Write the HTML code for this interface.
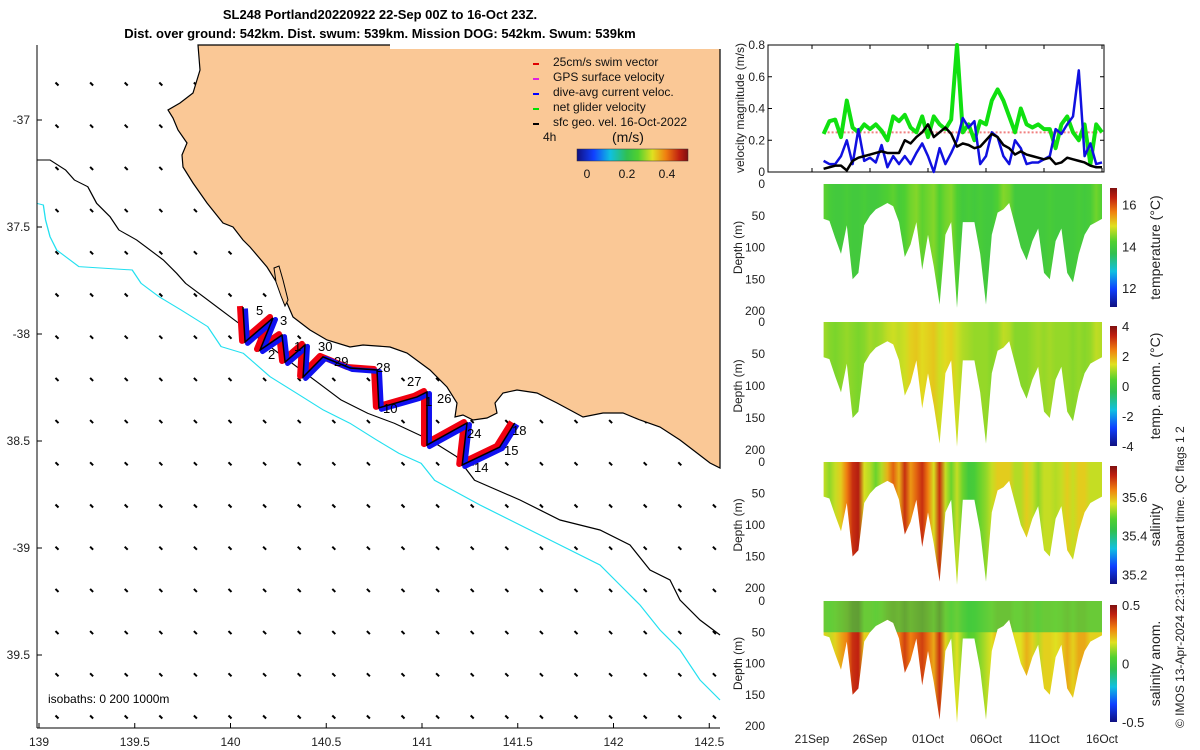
<!DOCTYPE html>
<html><head><meta charset="utf-8"><style>
html,body{margin:0;padding:0;background:#fff;}
svg{display:block;font-family:"Liberation Sans",sans-serif;}
</style></head><body>
<svg id="fig" width="1200" height="750" viewBox="0 0 1200 750">
<g id="mapArrows"></g>
<path fill="#fac896" stroke="#000" stroke-width="1.2" d="M198,45 L200,70 L193,93 L180,103 L168,110 L173,118 L178,130 L187,143 L182,155 L183,167 L193,183 L207,203 L223,223 L233,227 L243,240 L250,247 L267,267 L277,283 L287,303 L293,317 L310,330 L327,340 L350,347 L363,345 L390,347 L407,353 L430,370 L447,387 L457,403 L455,417 L463,415 L473,420 L487,418 L497,413 L495,403 L503,393 L517,390 L537,393 L557,403 L570,410 L583,417 L603,413 L623,413 L640,420 L660,427 L680,440 L697,453 L710,463 L720,468 L720,45 Z"/>
<path fill="#fac896" stroke="#000" stroke-width="1" d="M274,268 L279,266 L283,280 L288,300 L285,306 L281,296 L276,282 Z"/>
<g transform="translate(30,40) scale(0.4444,0.3333)">
<path fill="none" stroke="#000" stroke-width="3" d="M15,360 L45,360 L80,390 L100,420 L130,440 L150,490 L180,530 L200,570 L240,600 L260,620 L300,660 L330,700 L350,730 L390,770 L430,810 L470,850 L520,900 L580,960 L640,1020 L700,1080 L760,1120 L820,1150 L900,1200 L960,1250 L1000,1320"/>
<path fill="none" stroke="#22e0f0" stroke-width="3" d="M15,490 L30,495 L35,540 L45,590 L60,630 L110,680 L230,690 L250,730 L290,770 L340,810 L400,860 L430,920 L480,940 L540,1010 L600,1060 L660,1110 L720,1150 L780,1200 L830,1240 L880,1270 L910,1320"/>
</g>
<path fill="none" stroke="#000" stroke-width="1.2" d="M474,480 L520,500 L560,520 L600,530 L630,545 L650,570 L670,580 L680,600 L700,620 L720,635"/>
<path fill="none" stroke="#22e0f0" stroke-width="1.2" d="M434,480 L480,505 L520,525 L560,545 L600,565 L620,585 L640,605 L660,630 L680,650 L700,680 L720,700"/>
<rect x="390" y="43" width="332" height="6" fill="#fff"/>
<g id="track"></g>
<g font-size="13" fill="#000">
<text x="256" y="315">5</text><text x="280" y="325">3</text><text x="268" y="359">2</text><text x="294" y="351">1</text><text x="318" y="351">30</text><text x="334" y="366">29</text><text x="376" y="372">28</text><text x="407" y="386">27</text><text x="437" y="403">26</text><text x="425" y="406">1</text><text x="383" y="413">10</text><text x="467" y="438">24</text><text x="512" y="435">18</text><text x="504" y="455">15</text><text x="474" y="472">14</text>
</g>
<line x1="37" y1="45" x2="37" y2="728" stroke="#000"/>
<line x1="37" y1="728" x2="720" y2="728" stroke="#000"/>
<g id="mapTicks" font-size="12" fill="#222"></g>
<text x="48" y="703" font-size="12">isobaths: 0   200  1000m</text>
<g font-size="12" fill="#111">
<line x1="533" y1="64" x2="539" y2="64" stroke="#e00000" stroke-width="2"/><text x="553" y="66">25cm/s swim vector</text>
<line x1="533" y1="79" x2="539" y2="79" stroke="#e020e0" stroke-width="2"/><text x="553" y="81">GPS surface velocity</text>
<line x1="533" y1="94" x2="539" y2="94" stroke="#0000ff" stroke-width="2"/><text x="553" y="96">dive-avg current veloc.</text>
<line x1="533" y1="109" x2="539" y2="109" stroke="#00e000" stroke-width="2"/><text x="553" y="111">net glider velocity</text>
<line x1="533" y1="124" x2="539" y2="124" stroke="#000" stroke-width="2"/><text x="553" y="126">sfc geo. vel. 16-Oct-2022</text>
<text x="543" y="141">4h</text><text x="612" y="142" font-size="14">(m/s)</text>
<rect x="577" y="149" width="111" height="12" fill="url(#gJet)" stroke="#333" stroke-width="0.5"/>
<text x="587" y="178" text-anchor="middle">0</text><text x="627" y="178" text-anchor="middle">0.2</text><text x="667" y="178" text-anchor="middle">0.4</text>
</g>
<g font-size="13" font-weight="bold" text-anchor="middle">
<text x="380" y="19">SL248 Portland20220922 22-Sep 00Z to 16-Oct 23Z.</text>
<text x="380" y="38">Dist. over ground: 542km. Dist. swum: 539km. Mission DOG: 542km. Swum: 539km</text>
</g>
<defs>
<linearGradient id="gJet" x1="0" x2="1" y1="0" y2="0"></linearGradient>
<linearGradient id="gJetV" x1="0" x2="0" y1="1" y2="0"></linearGradient>
</defs>
<g id="right"></g>
<text transform="translate(1184,728) rotate(-90)" font-size="12" fill="#222">© IMOS 13-Apr-2024 22:31:18 Hobart time. QC flags 1  2</text>
</svg>
<script>
// ---------- data ----------
const days = [1,1.5,2,2.5,3,3.5,4,4.5,5,5.5,6,6.5,7,7.5,8,8.5,9,9.5,10,10.5,11,11.5,12,12.5,13,13.5,14,14.5,15,15.5,16,16.5,17,17.5,18,18.5,19,19.5,20,20.5,21,21.5,22,22.5,23,23.5,24,24.5,25];
const blueVel = [0.07,0.05,0.05,0.1,0.2,0.05,0.27,0.07,0.09,0.06,0.17,0.03,0.1,0.05,0.1,0.05,0.12,0.18,0.1,0.0,0.15,0.05,0.12,0.2,0.34,0.28,0.32,0.05,0.1,0.25,0.22,0.1,0.05,0.2,0.15,0.05,0.06,0.06,0.08,0.1,0.27,0.24,0.3,0.35,0.64,0.1,0.18,0.05,0.06];
const blackVel = [0.02,0.03,0.04,0.04,0.01,0.07,0.09,0.1,0.11,0.12,0.13,0.12,0.12,0.12,0.2,0.18,0.22,0.25,0.3,0.22,0.25,0.28,0.24,0.16,0.18,0.17,0.15,0.16,0.2,0.24,0.22,0.17,0.15,0.11,0.13,0.11,0.1,0.09,0.08,0.09,0.05,0.06,0.09,0.08,0.07,0.06,0.04,0.03,0.03];
const greenVel = [0.24,0.32,0.33,0.22,0.45,0.28,0.25,0.3,0.27,0.3,0.26,0.2,0.35,0.32,0.36,0.28,0.25,0.35,0.22,0.35,0.3,0.27,0.33,0.8,0.25,0.3,0.2,0.32,0.3,0.45,0.52,0.45,0.35,0.25,0.4,0.3,0.28,0.3,0.27,0.27,0.15,0.3,0.35,0.25,0.2,0.3,0.05,0.3,0.25];
const maxDepth = [55,58,85,110,65,150,140,65,50,40,35,30,35,60,115,95,60,135,80,130,190,80,60,195,60,60,60,110,190,80,45,40,30,65,100,120,90,70,140,150,90,70,140,155,110,80,65,60,55];
const tempVals = [14.3,14.1,14.0,14.0,14.1,14.0,14.0,14.1,14.0,14.0,14.1,14.2,14.3,14.1,14.2,14.4,14.5,14.3,14.4,14.5,14.2,14.4,14.5,14.2,14.0,14.1,14.0,14.1,14.0,14.0,14.2,14.5,14.4,14.0,14.0,14.0,14.0,14.0,14.0,14.1,14.0,14.0,14.0,14.0,14.1,14.0,14.1,14.4,14.2];
const tanomVals = [1.0,0.8,0.7,0.8,0.9,0.8,0.7,0.8,1.0,0.9,1.0,1.2,1.3,1.2,1.3,1.6,1.7,1.5,1.6,1.7,1.3,1.5,1.6,1.3,1.1,1.0,0.9,0.9,0.9,0.8,0.9,1.2,1.1,0.8,0.8,0.8,0.9,1.0,0.9,1.0,0.9,0.9,0.9,0.8,0.9,0.8,0.9,1.2,1.1];
const salVals = [35.55,35.52,35.55,35.58,35.64,35.7,35.72,35.56,35.54,35.5,35.54,35.6,35.66,35.6,35.7,35.62,35.66,35.7,35.64,35.56,35.7,35.55,35.5,35.55,35.5,35.46,35.47,35.5,35.52,35.55,35.58,35.58,35.58,35.54,35.54,35.58,35.55,35.52,35.55,35.55,35.54,35.55,35.58,35.55,35.58,35.58,35.55,35.55,35.55];
const sanomVals = [0.2,0.15,0.2,0.25,0.3,0.4,0.42,0.2,0.2,0.15,0.2,0.28,0.33,0.3,0.38,0.3,0.34,0.38,0.32,0.25,0.4,0.2,0.12,0.18,0.1,0.05,0.06,0.1,0.14,0.18,0.24,0.24,0.24,0.18,0.18,0.24,0.2,0.14,0.2,0.2,0.18,0.2,0.25,0.2,0.25,0.25,0.2,0.2,0.2];
const velTicks = [0,0.2,0.4,0.6,0.8];
const depthTicks = [0,50,100,150,200];
const dateTicks = [0,5,10,15,20,25];
const dateLabels = ["21Sep","26Sep","01Oct","06Oct","11Oct","16Oct"];
const trackLon = [140.065,140.076,140.222,140.154,140.269,140.285,140.389,140.379,140.483,140.624,140.765,140.775,140.974,141.026,141.026,141.235,141.21,141.406,141.484];
const trackLat = [-37.874,-38.037,-37.925,-38.075,-38.005,-38.131,-38.051,-38.201,-38.107,-38.159,-38.168,-38.345,-38.294,-38.271,-38.519,-38.416,-38.612,-38.528,-38.416];
const lonTicks = [139,139.5,140,140.5,141,141.5,142,142.5];
const lonLabels = ["139","139.5","140","140.5","141","141.5","142","142.5"];
const latTicks = [-37,-37.5,-38,-38.5,-39,-39.5];
const latLabels = ["-37","37.5","-38","38.5","-39","39.5"];

const NS = "http://www.w3.org/2000/svg";
function mk(tag, attrs, parent){const e=document.createElementNS(NS,tag);for(const k in attrs)e.setAttribute(k,attrs[k]);parent.appendChild(e);return e;}
const jetStops=[[0,"#101080"],[0.15,"#1040ff"],[0.3,"#10c0e0"],[0.45,"#30c050"],[0.55,"#50d030"],[0.68,"#e0e020"],[0.8,"#f08010"],[0.92,"#c02010"],[1,"#801010"]];
function hex(h){return [1,3,5].map(i=>parseInt(h.substr(i,2),16));}
function jet(t){t=Math.max(0,Math.min(1,t));for(let i=1;i<jetStops.length;i++){if(t<=jetStops[i][0]){const a=jetStops[i-1],b=jetStops[i];const f=(t-a[0])/(b[0]-a[0]);const ca=hex(a[1]),cb=hex(b[1]);return "rgb("+ca.map((v,j)=>Math.round(v+(cb[j]-v)*f)).join(",")+")";}}return jetStops[jetStops.length-1][1];}
["gJet","gJetV"].forEach(id=>{const g=document.getElementById(id);jetStops.forEach(s=>mk("stop",{offset:s[0],"stop-color":s[1]},g));});

// ---------- map ----------
const lonX = lon => 39 + (lon-139)*191.5;
const latY = lat => 120 - (lat+37)*214;
const arrows = document.getElementById("mapArrows");
for(let r=0;r<16;r++){for(let c=0;c<20;c++){
  const x=57+c*34.6, y=84+r*42.2;
  const a=mk("line",{x1:x-1.5,y1:y-1.5,x2:x+1.5,y2:y+1.5,stroke:"#000","stroke-width":2},arrows);
  
  
}}
const trk=document.getElementById("track");
const pts=trackLon.map((l,i)=>[lonX(l),latY(trackLat[i])]);
const ps=(dx,dy)=>pts.map(p=>(p[0]+dx)+","+(p[1]+dy)).join(" ");
const tr=mk("polyline",{points:ps(-3,-1),fill:"none",stroke:"#f00010","stroke-width":6,"stroke-linejoin":"round"},trk);


const tb=mk("polyline",{points:ps(2.5,1.5),fill:"none",stroke:"#1010f0","stroke-width":5,"stroke-linejoin":"round"},trk);


const tk=mk("polyline",{points:ps(0,0),fill:"none",stroke:"#000","stroke-width":1.5},trk);


const mt=document.getElementById("mapTicks");
lonTicks.forEach((l,i)=>{const x=lonX(l);
  const t=mk("text",{x:x,y:746,"text-anchor":"middle"},mt);t.textContent=lonLabels[i];
  
  
  mk("line",{x1:x,y1:728,x2:x,y2:723,stroke:"#000"},mt);});
latTicks.forEach((l,i)=>{const y=latY(l);
  const t=mk("text",{x:30,y:y+4,"text-anchor":"end"},mt);t.textContent=latLabels[i];
  
  
  mk("line",{x1:37,y1:y,x2:42,y2:y,stroke:"#000"},mt);});

// ---------- right panels ----------
const R=document.getElementById("right");
const X0=768,X1=1104;
const dayX = d => 812 + d*11.6;
const vTop=45,vBot=172;
const velY = v => vBot - v/0.8*(vBot-vTop);
const vp=mk("rect",{x:X0,y:vTop,width:X1-X0,height:vBot-vTop,fill:"none",stroke:"#000"},R);


const rl=mk("line",{x1:dayX(days[0]),x2:dayX(days[days.length-1]),y1:velY(0.25),y2:velY(0.25),stroke:"#f08080","stroke-width":2,"stroke-dasharray":"2,2"},R);


function series(vals,col,w,name){const p=mk("polyline",{points:days.map((d,i)=>dayX(d)+","+velY(vals[i])).join(" "),fill:"none",stroke:col,"stroke-width":w,"stroke-linejoin":"round"},R);
  
  }
series(greenVel,"#10e010",4,"net-glider-velocity-line");
series(blueVel,"#1010e0",2.5,"dive-avg-current-line");
series(blackVel,"#000",2.5,"geo-velocity-line");
velTicks.forEach(v=>{const y=velY(v);
  const t=mk("text",{x:765,y:y+4,"text-anchor":"end","font-size":12,fill:"#222"},R);t.textContent=String(v);
  
  
  mk("line",{x1:X0,x2:X0+4,y1:y,y2:y,stroke:"#000"},R);mk("line",{x1:X1,x2:X1-4,y1:y,y2:y,stroke:"#000"},R);});
const vl=mk("text",{transform:"translate(744,108) rotate(-90)","text-anchor":"middle","font-size":12,fill:"#222"},R);vl.textContent="velocity magnitude (m/s)";



const panels=[
 {top:184,bot:311,vals:tempVals,lo:11.1,hi:16.8,ticks:[12,14,16],tlab:["12","14","16"],title:"temperature (°C)",name:"temperature"},
 {top:322,bot:450,vals:tanomVals,lo:-4,hi:4,ticks:[-4,-2,0,2,4],tlab:["-4","-2","0","2","4"],title:"temp. anom. (°C)",name:"temp-anomaly"},
 {top:462,bot:588,vals:salVals,lo:35.15,hi:35.76,ticks:[35.2,35.4,35.6],tlab:["35.2","35.4","35.6"],title:"salinity",name:"salinity"},
 {top:601,bot:726,vals:sanomVals,lo:-0.5,hi:0.5,ticks:[-0.5,0,0.5],tlab:["-0.5","0","0.5"],title:"salinity anom.",name:"salinity-anomaly"}
];
const defs=document.querySelector("defs");
panels.forEach((P,pi)=>{
  const dY = z => P.top + z/200*(P.bot-P.top);
  const gid="gp"+pi;
  const g=mk("linearGradient",{id:gid,gradientUnits:"userSpaceOnUse",x1:dayX(days[0]),x2:dayX(days[days.length-1]),y1:0,y2:0},defs);
  days.forEach((d,i)=>mk("stop",{offset:(i/(days.length-1)).toFixed(4),"stop-color":jet((P.vals[i]-P.lo)/(P.hi-P.lo))},g));
  let pts=dayX(days[0])+","+dY(0)+" ";
  pts+=days.map((d,i)=>dayX(d)+","+dY(maxDepth[i])).join(" ");
  pts+=" "+dayX(days[days.length-1])+","+dY(0);
  const a=mk("polygon",{points:pts,fill:"url(#"+gid+")"},R);
  
  
  if(pi===3){const cid="cp"+pi;const cp=mk("clipPath",{id:cid},defs);mk("polygon",{points:pts},cp);
    const b=mk("rect",{x:X0,y:dY(0),width:X1-X0,height:dY(50)-dY(0),fill:jet(0.5),opacity:0.75,"clip-path":"url(#"+cid+")"},R);
    
    }
  depthTicks.forEach(z=>{const y=dY(z);
    const t=mk("text",{x:765,y:y+4,"text-anchor":"end","font-size":12,fill:"#222"},R);t.textContent=String(z);
    
    });
  const dl=mk("text",{transform:"translate(742,"+((P.top+P.bot)/2)+") rotate(-90)","text-anchor":"middle","font-size":12,fill:"#222"},R);dl.textContent="Depth (m)";
  
  
  const cb=mk("rect",{x:1110,y:P.top+4,width:7,height:P.bot-P.top-8,fill:"url(#gJetV)"},R);
  
  
  const cy = v => (P.bot-4) - (v-P.lo)/(P.hi-P.lo)*(P.bot-P.top-8);
  P.ticks.forEach((v,i)=>{const y=cy(v);
    const t=mk("text",{x:1122,y:y+5,"font-size":13,fill:"#222"},R);t.textContent=P.tlab[i];
    
    });
  const ct=mk("text",{transform:"translate(1160,"+((P.top+P.bot)/2)+") rotate(-90)","text-anchor":"middle","font-size":14,fill:"#222"},R);ct.textContent=P.title;
  
  
});
dateTicks.forEach((d,i)=>{const x=dayX(d);
  const t=mk("text",{x:x,y:743,"text-anchor":"middle","font-size":12,fill:"#222"},R);t.textContent=dateLabels[i];
  
  
  mk("line",{x1:x,x2:x,y1:172,y2:168,stroke:"#000"},R);mk("line",{x1:x,x2:x,y1:45,y2:49,stroke:"#000"},R);});
</script>
</body></html>
